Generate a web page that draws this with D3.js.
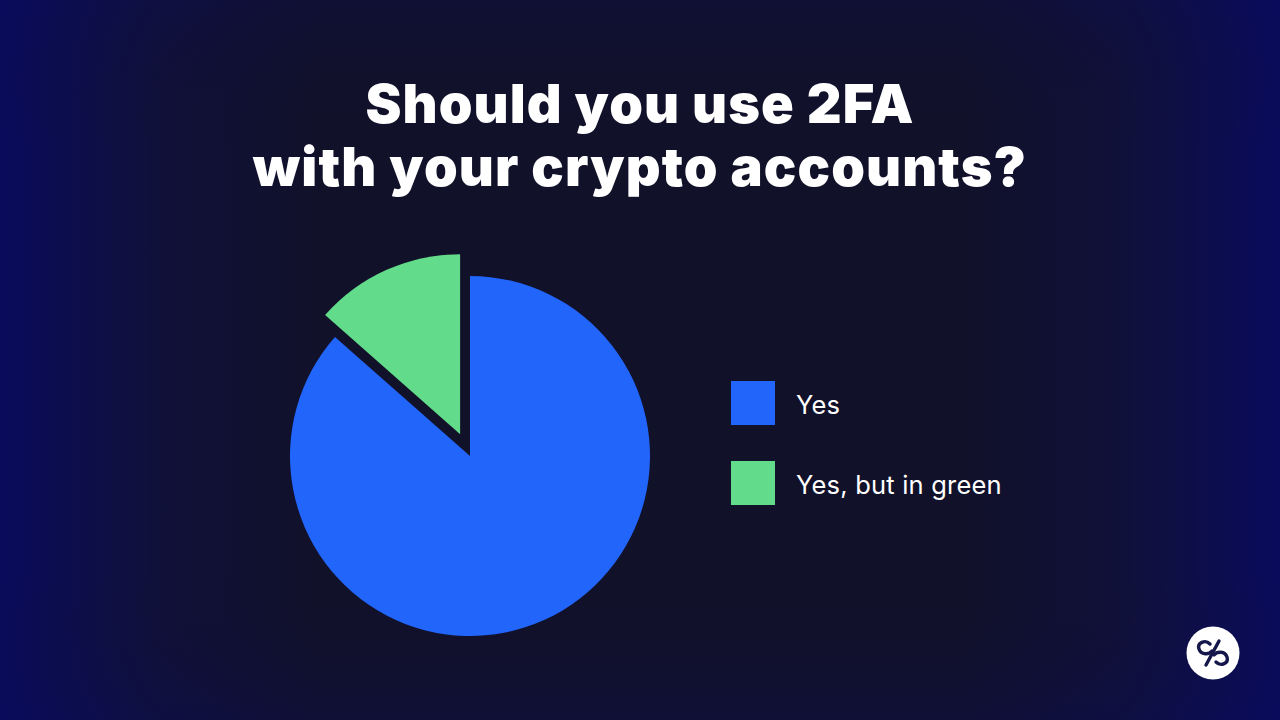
<!DOCTYPE html>
<html><head><meta charset="utf-8">
<script src="https://cdn.jsdelivr.net/npm/d3@7"></script>
<style>html,body{margin:0;padding:0;background:#10112a;overflow:hidden}</style>
</head><body>
<svg id="c" width="1280" height="720"></svg>
<script>
const categories = ["Yes", "Yes, but in green"];
const values = [86.5, 13.5];
const colors = ["#2265fa", "#62dc8a"];
const titleLines = ["Should you use 2FA", "with your crypto accounts?"];

const svg = d3.select("#c");
const defs = svg.append("defs");
const lg = defs.append("linearGradient").attr("id","bgH").attr("x1","0").attr("x2","1").attr("y1","0").attr("y2","0");
[[0,"#0a0b5c"],[0.12,"#10113a"],[0.25,"#11112a"],[0.75,"#11112a"],[0.88,"#10113a"],[1,"#0a0b5c"]].forEach(s=>lg.append("stop").attr("offset",s[0]).attr("stop-color",s[1]));
const lgV = defs.append("linearGradient").attr("id","bgV").attr("x1","0").attr("x2","0").attr("y1","0").attr("y2","1");
[[0,"#0a0b5c",0.2],[0.2,"#11112a",0],[0.8,"#11112a",0],[1,"#0a0b5c",0.25]].forEach(s=>lgV.append("stop").attr("offset",s[0]).attr("stop-color",s[1]).attr("stop-opacity",s[2]));
svg.append("rect").attr("width",1280).attr("height",720).attr("fill","url(#bgH)");
svg.append("rect").attr("width",1280).attr("height",720).attr("fill","url(#bgV)");

// Title
svg.append("g").selectAll("text").data(titleLines).join("text")
  .attr("x",640).attr("y",(d,i)=>123+i*63)
  .attr("text-anchor","middle")
  .attr("font-family","Inter, 'Open Sans', sans-serif")
  .attr("font-weight",900).attr("font-size",54).attr("letter-spacing","1.1")
  .attr("fill","#ffffff").text(d=>d);

// Pie
const cx = 470, cy = 456, R = 180, explode = 24;
const data = categories.map((c,i)=>({cat:c,value:values[i],color:colors[i]}));
const pie = d3.pie().value(d=>d.value).sort(null).startAngle(0).endAngle(2*Math.PI);
const arc = d3.arc().innerRadius(0).outerRadius(R);
const g = svg.append("g").attr("transform",`translate(${cx},${cy})`);
g.selectAll("path").data(pie(data)).join("path")
  .attr("d",arc).attr("fill",d=>d.data.color)
  .attr("transform",(d,i)=>{
    if(i===0) return null;
    const m=(d.startAngle+d.endAngle)/2;
    return `translate(${Math.sin(m)*explode},${-Math.cos(m)*explode})`;
  });

// Legend
const leg = svg.append("g").attr("transform","translate(731,381)");
const li = leg.selectAll("g").data(data).join("g").attr("transform",(d,i)=>`translate(0,${i*80})`);
li.append("rect").attr("width",44).attr("height",44).attr("fill",d=>d.color);
li.append("text").attr("x",65).attr("y",33).attr("font-family","Inter, sans-serif")
  .attr("font-size",25.5).attr("letter-spacing","0.2").attr("fill","#ffffff").text(d=>d.cat);

// Logo
const lo = svg.append("g").attr("transform","translate(1213,653)");
lo.append("circle").attr("r",26.5).attr("fill","#ffffff");
lo.append("path").attr("d","M-3,-9 C-8,-14 -16,-10 -14,-4 C-12,2 -4,2 -1,-2")
  .attr("fill","none").attr("stroke","#15164a").attr("stroke-width",3.4).attr("stroke-linecap","round");
lo.append("path").attr("d","M3,9 C8,14 16,10 14,4 C12,-2 4,-2 1,2")
  .attr("fill","none").attr("stroke","#15164a").attr("stroke-width",3.4).attr("stroke-linecap","round");
lo.append("path").attr("d","M6,-12 L-7,12")
  .attr("fill","none").attr("stroke","#15164a").attr("stroke-width",3.4).attr("stroke-linecap","round");
</script>
</body></html>
